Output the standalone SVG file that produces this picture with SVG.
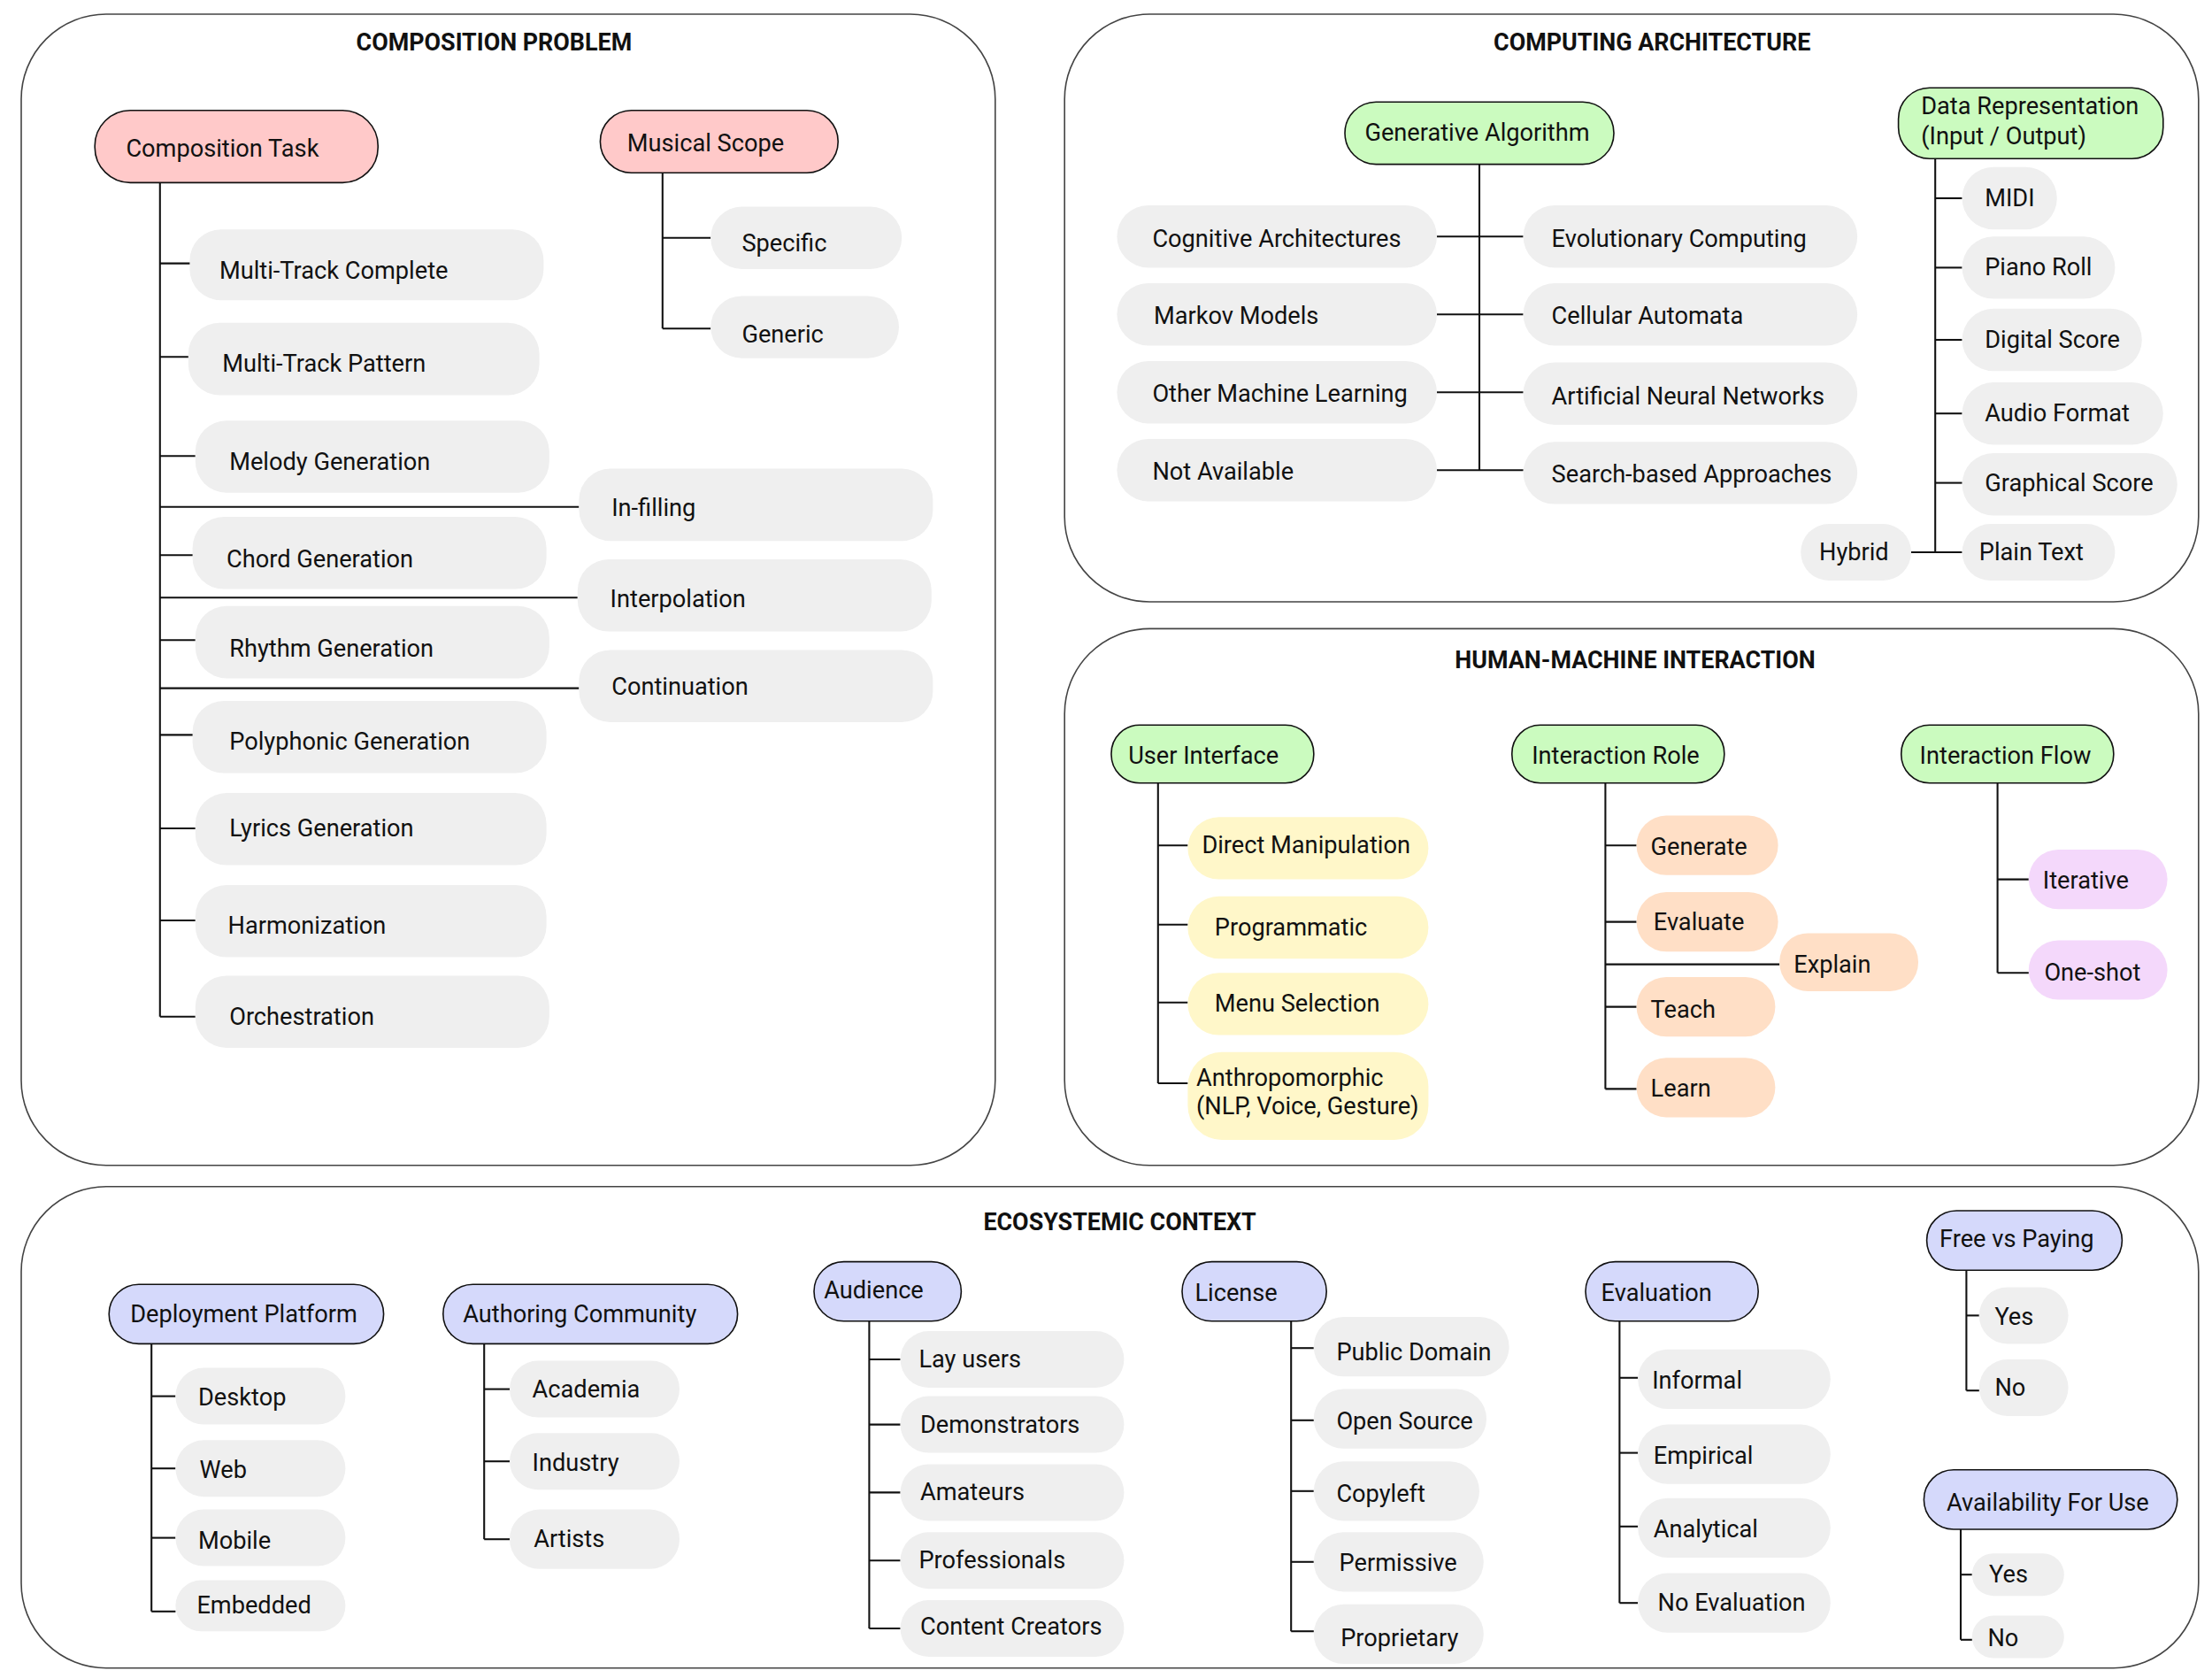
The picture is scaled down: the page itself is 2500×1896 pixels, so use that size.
<svg xmlns="http://www.w3.org/2000/svg" width="2500" height="1896" viewBox="0 0 2500 1896">
<style>
.panel{fill:#fff;stroke:#444;stroke-width:1}
.p{stroke:#111;stroke-width:1}
.c{fill:#efefef;stroke:none}
.red{fill:#ffc9c9}.grn{fill:#cbfbbf}.blu{fill:#d5d9fb}.yel{fill:#fff7c9}.org{fill:#ffdfc6}.pur{fill:#f4d8fb}
text{font-family:Roboto,"Liberation Sans",sans-serif;font-size:17px;fill:#111;dominant-baseline:central}
.t{font-weight:bold;font-size:16.8px;text-anchor:middle}
#connectors line{stroke:#111;stroke-width:1.3}
</style>
<rect width="2500" height="1896" fill="#fff"/>
<g transform="scale(1.6)">
<g id="panels">
<rect class="panel" x="15" y="10" width="688" height="813" rx="60"/>
<rect class="panel" x="752" y="10" width="801" height="415" rx="60"/>
<rect class="panel" x="752" y="444" width="801" height="379" rx="60"/>
<rect class="panel" x="15" y="838" width="1538" height="340" rx="60"/>
<text class="t" x="349" y="30">COMPOSITION PROBLEM</text>
<text class="t" x="1167" y="30">COMPUTING ARCHITECTURE</text>
<text class="t" x="1155" y="466">HUMAN-MACHINE INTERACTION</text>
<text class="t" x="791" y="863">ECOSYSTEMIC CONTEXT</text>
</g>
<g id="connectors">
<line x1="113" y1="129" x2="113" y2="718"/>
<line x1="113" y1="186" x2="138" y2="186"/><line x1="113" y1="252" x2="138" y2="252"/><line x1="113" y1="322" x2="138" y2="322"/>
<line x1="113" y1="358" x2="409" y2="358"/><line x1="113" y1="392" x2="138" y2="392"/><line x1="113" y1="422" x2="408" y2="422"/>
<line x1="113" y1="452" x2="138" y2="452"/><line x1="113" y1="486" x2="409" y2="486"/><line x1="113" y1="519" x2="138" y2="519"/>
<line x1="113" y1="585" x2="138" y2="585"/><line x1="113" y1="650" x2="138" y2="650"/><line x1="113" y1="718" x2="138" y2="718"/>
<line x1="468" y1="122" x2="468" y2="232"/><line x1="468" y1="168" x2="502" y2="168"/><line x1="468" y1="232" x2="502" y2="232"/>
<line x1="1045" y1="116" x2="1045" y2="332"/>
<line x1="1015" y1="167" x2="1076" y2="167"/><line x1="1015" y1="222" x2="1076" y2="222"/><line x1="1015" y1="277" x2="1076" y2="277"/><line x1="1015" y1="332" x2="1076" y2="332"/>
<line x1="1367" y1="112" x2="1367" y2="390"/>
<line x1="1367" y1="140" x2="1386" y2="140"/><line x1="1367" y1="189" x2="1386" y2="189"/><line x1="1367" y1="240" x2="1386" y2="240"/><line x1="1367" y1="292" x2="1386" y2="292"/><line x1="1367" y1="341" x2="1386" y2="341"/><line x1="1350" y1="390" x2="1386" y2="390"/>
<line x1="818" y1="553" x2="818" y2="765"/>
<line x1="818" y1="597" x2="839" y2="597"/><line x1="818" y1="653" x2="839" y2="653"/><line x1="818" y1="708" x2="839" y2="708"/><line x1="818" y1="765" x2="839" y2="765"/>
<line x1="1134" y1="553" x2="1134" y2="769"/>
<line x1="1134" y1="597" x2="1156" y2="597"/><line x1="1134" y1="651" x2="1156" y2="651"/><line x1="1134" y1="681" x2="1257" y2="681"/><line x1="1134" y1="711" x2="1156" y2="711"/><line x1="1134" y1="769" x2="1156" y2="769"/>
<line x1="1411" y1="553" x2="1411" y2="687"/><line x1="1411" y1="621" x2="1433" y2="621"/><line x1="1411" y1="687" x2="1433" y2="687"/>
<line x1="107" y1="949" x2="107" y2="1138"/>
<line x1="107" y1="986" x2="124" y2="986"/><line x1="107" y1="1037" x2="124" y2="1037"/><line x1="107" y1="1086" x2="124" y2="1086"/><line x1="107" y1="1138" x2="124" y2="1138"/>
<line x1="342" y1="949" x2="342" y2="1087"/>
<line x1="342" y1="981" x2="360" y2="981"/><line x1="342" y1="1032" x2="360" y2="1032"/><line x1="342" y1="1087" x2="360" y2="1087"/>
<line x1="614" y1="933" x2="614" y2="1150"/>
<line x1="614" y1="960" x2="636" y2="960"/><line x1="614" y1="1006" x2="636" y2="1006"/><line x1="614" y1="1054" x2="636" y2="1054"/><line x1="614" y1="1102" x2="636" y2="1102"/><line x1="614" y1="1150" x2="636" y2="1150"/>
<line x1="912" y1="933" x2="912" y2="1152"/>
<line x1="912" y1="952" x2="928" y2="952"/><line x1="912" y1="1003" x2="928" y2="1003"/><line x1="912" y1="1053" x2="928" y2="1053"/><line x1="912" y1="1103" x2="928" y2="1103"/><line x1="912" y1="1152" x2="928" y2="1152"/>
<line x1="1144" y1="933" x2="1144" y2="1132"/>
<line x1="1144" y1="973" x2="1157" y2="973"/><line x1="1144" y1="1026" x2="1157" y2="1026"/><line x1="1144" y1="1078" x2="1157" y2="1078"/><line x1="1144" y1="1132" x2="1157" y2="1132"/>
<line x1="1389" y1="897" x2="1389" y2="982"/><line x1="1389" y1="929" x2="1398" y2="929"/><line x1="1389" y1="982" x2="1398" y2="982"/>
<line x1="1385" y1="1080" x2="1385" y2="1158"/><line x1="1385" y1="1112" x2="1393" y2="1112"/><line x1="1385" y1="1158" x2="1393" y2="1158"/>
</g>
<g id="n-comptask"><rect class="p red" x="67" y="78" width="200" height="51" rx="25"/><text x="89" y="105">Composition Task</text></g>
<g id="n-scope"><rect class="p red" x="424" y="78" width="168" height="44" rx="22"/><text x="443" y="101">Musical Scope</text></g>
<g id="n-mtc"><rect class="c" x="134" y="162" width="250" height="50" rx="22"/><text x="155" y="191">Multi-Track Complete</text></g>
<g id="n-mtp"><rect class="c" x="133" y="228" width="248" height="51" rx="22"/><text x="157" y="257">Multi-Track Pattern</text></g>
<g id="n-melody"><rect class="c" x="138" y="297" width="250" height="51" rx="22"/><text x="162" y="326">Melody Generation</text></g>
<g id="n-infill"><rect class="c" x="409" y="331" width="250" height="51" rx="22"/><text x="432" y="359">In-filling</text></g>
<g id="n-chord"><rect class="c" x="136" y="365" width="250" height="51" rx="22"/><text x="160" y="395">Chord Generation</text></g>
<g id="n-interp"><rect class="c" x="408" y="395" width="250" height="51" rx="22"/><text x="431" y="423">Interpolation</text></g>
<g id="n-rhythm"><rect class="c" x="138" y="428" width="250" height="51" rx="22"/><text x="162" y="458">Rhythm Generation</text></g>
<g id="n-cont"><rect class="c" x="409" y="459" width="250" height="51" rx="22"/><text x="432" y="485">Continuation</text></g>
<g id="n-poly"><rect class="c" x="136" y="495" width="250" height="51" rx="22"/><text x="162" y="524">Polyphonic Generation</text></g>
<g id="n-lyrics"><rect class="c" x="138" y="560" width="248" height="51" rx="22"/><text x="162" y="585">Lyrics Generation</text></g>
<g id="n-harm"><rect class="c" x="138" y="625" width="248" height="51" rx="22"/><text x="161" y="654">Harmonization</text></g>
<g id="n-orch"><rect class="c" x="138" y="689" width="250" height="51" rx="22"/><text x="162" y="718">Orchestration</text></g>
<g id="n-specific"><rect class="c" x="502" y="146" width="135" height="44" rx="22"/><text x="524" y="172">Specific</text></g>
<g id="n-generic"><rect class="c" x="502" y="209" width="133" height="44" rx="22"/><text x="524" y="236">Generic</text></g>
<g id="n-genalg"><rect class="p grn" x="950" y="72" width="190" height="44" rx="22"/><text x="964" y="94">Generative Algorithm</text></g>
<g id="n-cog"><rect class="c" x="789" y="145" width="226" height="44" rx="22"/><text x="814" y="169">Cognitive Architectures</text></g>
<g id="n-markov"><rect class="c" x="789" y="200" width="226" height="44" rx="22"/><text x="815" y="223">Markov Models</text></g>
<g id="n-oml"><rect class="c" x="789" y="255" width="226" height="44" rx="22"/><text x="814" y="278">Other Machine Learning</text></g>
<g id="n-na"><rect class="c" x="789" y="310" width="226" height="44" rx="22"/><text x="814" y="333">Not Available</text></g>
<g id="n-evo"><rect class="c" x="1076" y="145" width="236" height="44" rx="22"/><text x="1096" y="169">Evolutionary Computing</text></g>
<g id="n-cell"><rect class="c" x="1076" y="200" width="236" height="44" rx="22"/><text x="1096" y="223">Cellular Automata</text></g>
<g id="n-ann"><rect class="c" x="1076" y="256" width="236" height="44" rx="22"/><text x="1096" y="280">Artificial Neural Networks</text></g>
<g id="n-search"><rect class="c" x="1076" y="312" width="236" height="44" rx="22"/><text x="1096" y="335">Search-based Approaches</text></g>
<g id="n-datarep"><rect class="p grn" x="1341" y="62" width="187" height="50" rx="22"/><text x="1357" y="75">Data Representation</text><text x="1357" y="96">(Input / Output)</text></g>
<g id="n-midi"><rect class="c" x="1386" y="118" width="67" height="44" rx="22"/><text x="1402" y="140">MIDI</text></g>
<g id="n-piano"><rect class="c" x="1386" y="167" width="108" height="44" rx="22"/><text x="1402" y="189">Piano Roll</text></g>
<g id="n-digital"><rect class="c" x="1386" y="218" width="127" height="44" rx="22"/><text x="1402" y="240">Digital Score</text></g>
<g id="n-audio"><rect class="c" x="1386" y="270" width="142" height="44" rx="22"/><text x="1402" y="292">Audio Format</text></g>
<g id="n-graph"><rect class="c" x="1386" y="320" width="152" height="44" rx="22"/><text x="1402" y="341">Graphical Score</text></g>
<g id="n-plain"><rect class="c" x="1386" y="370" width="108" height="40" rx="20"/><text x="1398" y="390">Plain Text</text></g>
<g id="n-hybrid"><rect class="c" x="1272" y="370" width="78" height="40" rx="20"/><text x="1285" y="390">Hybrid</text></g>
<g id="n-ui"><rect class="p grn" x="785" y="512" width="143" height="41" rx="20"/><text x="797" y="534">User Interface</text></g>
<g id="n-dm"><rect class="c yel" x="839" y="577" width="170" height="44" rx="22"/><text x="849" y="597">Direct Manipulation</text></g>
<g id="n-prog"><rect class="c yel" x="839" y="633" width="170" height="44" rx="22"/><text x="858" y="655">Programmatic</text></g>
<g id="n-menu"><rect class="c yel" x="839" y="687" width="170" height="44" rx="22"/><text x="858" y="709">Menu Selection</text></g>
<g id="n-anthro"><rect class="c yel" x="839" y="743" width="170" height="62" rx="24"/><text x="845" y="761">Anthropomorphic</text><text x="845" y="781">(NLP, Voice, Gesture)</text></g>
<g id="n-role"><rect class="p grn" x="1068" y="512" width="150" height="41" rx="20"/><text x="1082" y="534">Interaction Role</text></g>
<g id="n-gen"><rect class="c org" x="1156" y="576" width="100" height="42" rx="21"/><text x="1166" y="598">Generate</text></g>
<g id="n-eval"><rect class="c org" x="1156" y="630" width="100" height="42" rx="21"/><text x="1168" y="651">Evaluate</text></g>
<g id="n-explain"><rect class="c org" x="1257" y="659" width="98" height="41" rx="20"/><text x="1267" y="681">Explain</text></g>
<g id="n-teach"><rect class="c org" x="1156" y="690" width="98" height="42" rx="21"/><text x="1166" y="713">Teach</text></g>
<g id="n-learn"><rect class="c org" x="1156" y="747" width="98" height="42" rx="21"/><text x="1166" y="769">Learn</text></g>
<g id="n-flow"><rect class="p grn" x="1343" y="512" width="150" height="41" rx="20"/><text x="1356" y="534">Interaction Flow</text></g>
<g id="n-iter"><rect class="c pur" x="1433" y="600" width="98" height="42" rx="21"/><text x="1443" y="622">Iterative</text></g>
<g id="n-oneshot"><rect class="c pur" x="1433" y="664" width="98" height="42" rx="21"/><text x="1444" y="687">One-shot</text></g>
<g id="n-deploy"><rect class="p blu" x="77" y="907" width="194" height="42" rx="21"/><text x="92" y="928">Deployment Platform</text></g>
<g id="n-desktop"><rect class="c" x="124" y="966" width="120" height="40" rx="20"/><text x="140" y="987">Desktop</text></g>
<g id="n-web"><rect class="c" x="124" y="1017" width="120" height="40" rx="20"/><text x="141" y="1038">Web</text></g>
<g id="n-mobile"><rect class="c" x="124" y="1066" width="120" height="40" rx="20"/><text x="140" y="1088">Mobile</text></g>
<g id="n-embedded"><rect class="c" x="124" y="1116" width="120" height="36" rx="18"/><text x="139" y="1134">Embedded</text></g>
<g id="n-author"><rect class="p blu" x="313" y="907" width="208" height="42" rx="21"/><text x="327" y="928">Authoring Community</text></g>
<g id="n-acad"><rect class="c" x="360" y="961" width="120" height="40" rx="20"/><text x="376" y="981">Academia</text></g>
<g id="n-industry"><rect class="c" x="360" y="1012" width="120" height="40" rx="20"/><text x="376" y="1033">Industry</text></g>
<g id="n-artists"><rect class="c" x="360" y="1066" width="120" height="42" rx="21"/><text x="377" y="1087">Artists</text></g>
<g id="n-audience"><rect class="p blu" x="575" y="891" width="104" height="42" rx="21"/><text x="582" y="911">Audience</text></g>
<g id="n-lay"><rect class="c" x="636" y="940" width="158" height="40" rx="20"/><text x="649" y="960">Lay users</text></g>
<g id="n-demo"><rect class="c" x="636" y="986" width="158" height="40" rx="20"/><text x="650" y="1006">Demonstrators</text></g>
<g id="n-amateurs"><rect class="c" x="636" y="1034" width="158" height="40" rx="20"/><text x="650" y="1054">Amateurs</text></g>
<g id="n-pro"><rect class="c" x="636" y="1082" width="158" height="40" rx="20"/><text x="649" y="1102">Professionals</text></g>
<g id="n-creators"><rect class="c" x="636" y="1130" width="158" height="40" rx="20"/><text x="650" y="1149">Content Creators</text></g>
<g id="n-license"><rect class="p blu" x="835" y="891" width="102" height="42" rx="21"/><text x="844" y="913">License</text></g>
<g id="n-pd"><rect class="c" x="928" y="930" width="138" height="42" rx="21"/><text x="944" y="955">Public Domain</text></g>
<g id="n-os"><rect class="c" x="928" y="981" width="122" height="42" rx="21"/><text x="944" y="1004">Open Source</text></g>
<g id="n-copyleft"><rect class="c" x="928" y="1032" width="117" height="42" rx="21"/><text x="944" y="1055">Copyleft</text></g>
<g id="n-perm"><rect class="c" x="928" y="1082" width="120" height="42" rx="21"/><text x="946" y="1104">Permissive</text></g>
<g id="n-prop"><rect class="c" x="928" y="1133" width="120" height="42" rx="21"/><text x="947" y="1157">Proprietary</text></g>
<g id="n-evaluation"><rect class="p blu" x="1120" y="891" width="122" height="42" rx="21"/><text x="1131" y="913">Evaluation</text></g>
<g id="n-informal"><rect class="c" x="1157" y="953" width="136" height="42" rx="21"/><text x="1167" y="975">Informal</text></g>
<g id="n-empirical"><rect class="c" x="1157" y="1006" width="136" height="42" rx="21"/><text x="1168" y="1028">Empirical</text></g>
<g id="n-analytical"><rect class="c" x="1157" y="1058" width="136" height="42" rx="21"/><text x="1168" y="1080">Analytical</text></g>
<g id="n-noeval"><rect class="c" x="1157" y="1111" width="136" height="42" rx="21"/><text x="1171" y="1132">No Evaluation</text></g>
<g id="n-free"><rect class="p blu" x="1361" y="855" width="138" height="42" rx="21"/><text x="1370" y="875">Free vs Paying</text></g>
<g id="n-fyes"><rect class="c" x="1398" y="909" width="63" height="40" rx="20"/><text x="1409" y="930">Yes</text></g>
<g id="n-fno"><rect class="c" x="1398" y="960" width="63" height="40" rx="20"/><text x="1409" y="980">No</text></g>
<g id="n-avail"><rect class="p blu" x="1359" y="1038" width="179" height="42" rx="21"/><text x="1375" y="1061">Availability For Use</text></g>
<g id="n-ayes"><rect class="c" x="1393" y="1097" width="65" height="30" rx="15"/><text x="1405" y="1112">Yes</text></g>
<g id="n-ano"><rect class="c" x="1393" y="1141" width="65" height="30" rx="15"/><text x="1404" y="1157">No</text></g>
</g>
</svg>
